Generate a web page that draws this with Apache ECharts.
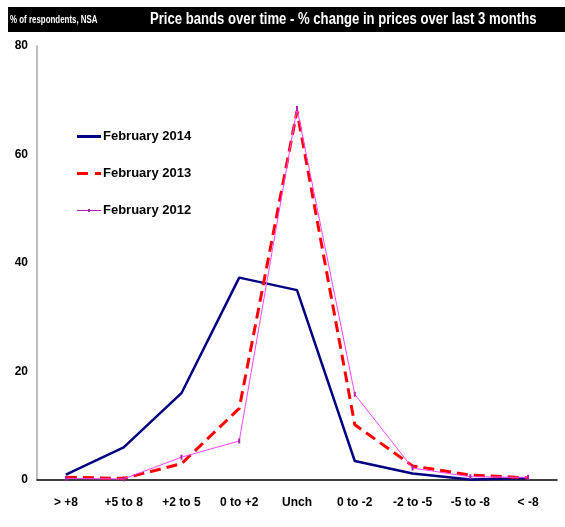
<!DOCTYPE html>
<html>
<head>
<meta charset="utf-8">
<script src="https://cdn.jsdelivr.net/npm/echarts@6/dist/echarts.min.js"></script>
<style>
  html, body { margin: 0; padding: 0; background: #fff; }
  #chart { width: 565px; height: 527px; }
</style>
</head>
<body>
<div id="chart"></div>
<script>
// Price bands (% change in prices over the last 3 months)
const categories = ['> +8', '+5 to 8', '+2 to 5', '0 to +2', 'Unch', '0 to -2', '-2 to -5', '-5 to -8', '< -8'];

// Share of respondents in each band, %
const feb2014 = [1.0, 6.0, 16.0, 37.3, 35.0, 3.5, 1.2, 0.1, 0.3];
const feb2013 = [0.5, 0.3, 3.0, 13.2, 68.0, 10.2, 2.6, 0.9, 0.4];
const feb2012 = [0.3, 0.2, 4.2, 7.2, 68.5, 15.8, 2.2, 0.6, 0.5];

const yTicks = [0, 20, 40, 60, 80];

const FONT = '"Liberation Sans", Arial, sans-serif';

const chart = echarts.init(document.getElementById('chart'));
chart.setOption({
  backgroundColor: '#fff',
  animation: false,
  textStyle: { fontFamily: FONT },
  graphic: [
    {
      type: 'rect',
      shape: { x: 8, y: 7, width: 557, height: 25 },
      style: { fill: '#000' },
      silent: true
    },
    {
      type: 'text',
      x: 10, y: 20, scaleX: 0.72,
      style: {
        text: '% of respondents, NSA',
        fill: '#fff',
        font: 'bold 11px ' + FONT,
        verticalAlign: 'middle'
      }
    },
    {
      type: 'text',
      x: 150, y: 19.5, scaleX: 0.82,
      style: {
        text: 'Price bands over time - % change in prices over last 3 months',
        fill: '#fff',
        font: 'bold 16px ' + FONT,
        verticalAlign: 'middle'
      }
    }
  ],
  legend: {
    orient: 'vertical',
    left: 77,
    top: 130,
    padding: 0,
    itemGap: 24,
    itemWidth: 24,
    itemHeight: 3,
    textStyle: { fontFamily: FONT, fontWeight: 'bold', fontSize: 13, color: '#000', padding: [0, 0, 0, -3] },
    data: [
      { name: 'February 2014', icon: 'rect' },
      { name: 'February 2013', icon: 'path://M0,0 H11 V3 H0 Z M18,0 H24 V3 H18 Z' },
      { name: 'February 2012', icon: 'path://M0,1 H24 V2 H0 Z M11,0 H13 V3 H11 Z' }
    ]
  },
  grid: { left: 37, right: 8, top: 46, bottom: 47, containLabel: false },
  xAxis: {
    type: 'category',
    data: categories,
    boundaryGap: true,
    axisLine: { lineStyle: { color: '#000', width: 1.5 } },
    axisTick: { show: false },
    axisLabel: {
      color: '#000', fontFamily: FONT, fontWeight: 'bold', fontSize: 12,
      margin: 17, interval: 0
    }
  },
  yAxis: {
    type: 'value',
    min: yTicks[0],
    max: yTicks[yTicks.length - 1],
    interval: 20,
    axisLine: { show: true, lineStyle: { color: '#a8a8a8', width: 1.5 } },
    axisTick: { show: false },
    splitLine: { show: false },
    axisLabel: {
      color: '#000', fontFamily: FONT, fontWeight: 'bold', fontSize: 12,
      margin: 9
    }
  },
  series: [
    {
      name: 'February 2014',
      type: 'line',
      data: feb2014,
      symbol: 'none',
      lineStyle: { color: '#000080', width: 2.5 },
      itemStyle: { color: '#000080' },
      z: 3
    },
    {
      name: 'February 2013',
      type: 'line',
      data: feb2013,
      symbol: 'none',
      lineStyle: { color: '#ff0000', width: 3, type: [11, 6] },
      itemStyle: { color: '#ff0000' },
      z: 4
    },
    {
      name: 'February 2012',
      type: 'line',
      data: feb2012,
      symbol: 'rect',
      symbolSize: [2, 5],
      lineStyle: { color: '#ff44ff', width: 1 },
      itemStyle: { color: '#aa22aa' },
      z: 5
    }
  ]
});
</script>
</body>
</html>
